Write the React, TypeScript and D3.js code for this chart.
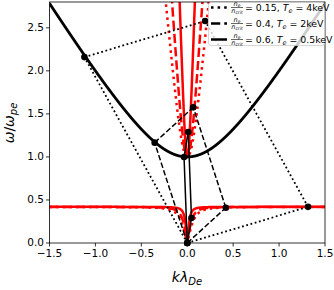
import React from 'react';
import * as d3 from 'd3';

const W = 334, H = 290;
const left = 49.5, right = 325, top = 2, bottom = 243;

// the three cases of the legend
const densities = ['0.15', '0.4', '0.6'];      // n_e / n_crit
const temperatures = [4, 2, 0.5];              // T_e in keV
const tempLabels = ['4', '2', '0.5'];
const styles = ['dotted', 'dashed', 'solid'];

// plateau of the low-frequency branch (omega / omega_pe)
const plateau = 0.42;
const mec2 = 511; // keV

// matching points: [k lambda_De, omega / omega_pe]
const epwPoints = [[-1.12, 2.16], [-0.355, 1.166], [-0.035, 1.0]];
const lowPoints = [[1.315, 0.42], [0.42, 0.41], [0.046, 0.29]];
const pumpPoints = [[0.195, 2.58], [0.065, 1.576], [0.011, 1.29]];

const xTicks = [-1.5, -1, -0.5, 0, 0.5, 1, 1.5];
const yTicks = [0, 0.5, 1, 1.5, 2, 2.5];

const x = d3.scaleLinear().domain([-1.5, 1.5]).range([left, right]);
const y = d3.scaleLinear().domain([0, 2.8]).range([bottom, top]);

const ks = d3.range(-1500, 1501).map(i => i / 1000);

// Bohm-Gross EPW
const epw = (k: number) => Math.sqrt(1 + 3 * k * k);
// coupled EM / low branch, a = c / v_te
const branches = (k: number, a: number) => {
  const X = (a * k) * (a * k);
  const s = 1 + X;
  const d = Math.sqrt(s * s - 4 * X * plateau * plateau);
  return [Math.sqrt(Math.max(0, (s - d) / 2)), Math.sqrt((s + d) / 2)];
};

const line = d3.line<number[]>().x(d => x(d[0])).y(d => y(d[1]));

const redDash: any = { dotted: '2.5,4.1', dashed: '9.25,4', solid: null };
const thinDash: any = { dotted: '1.8,2.6', dashed: '5.5,2.4', solid: null };

const font = 'DejaVu Sans, sans-serif';

export default function App() {
  const fmt = (v: number) => (v < 0 ? '\u2212' : '') + Math.abs(v).toFixed(1);
  return (
    <svg width={W} height={H} style={{ position: 'absolute', left: 0, top: 0 }} fontFamily={font}>
      <defs>
        <clipPath id="plot">
          <rect x={left} y={top} width={right - left} height={bottom - top} />
        </clipPath>
      </defs>
      <rect width={W} height={H} fill="white" />
      <g clipPath="url(#plot)">
        {temperatures.map((t, i) => {
          const a = Math.sqrt(mec2 / t);
          const low = ks.map(k => [k, branches(k, a)[0]]);
          const up = ks.map(k => [k, Math.min(branches(k, a)[1], 5)]);
          return (
            <g key={'r' + i} fill="none" stroke="red" strokeWidth={2.5} strokeDasharray={redDash[styles[i]] || undefined}>
              <path d={line(low) || ''} />
              <path d={line(up) || ''} />
            </g>
          );
        })}
        <path d={line(ks.map(k => [k, epw(k)])) || ''} fill="none" stroke="black" strokeWidth={2.8} />
        {styles.map((s, i) => {
          const O = [0, 0], A = epwPoints[i], B = pumpPoints[i], C = lowPoints[i];
          return (
            <g key={'p' + i} fill="none" stroke="black" strokeWidth={s === 'dotted' ? 1.8 : 1.5} strokeDasharray={thinDash[s] || undefined}>
              <path d={line([O, A]) || ''} />
              <path d={line([O, C]) || ''} />
              <path d={line([A, B]) || ''} />
              <path d={line([C, B]) || ''} />
            </g>
          );
        })}
      </g>
      {styles.map((s, i) => (
        <g key={'m' + i} fill="black">
          {[[0, 0], epwPoints[i], pumpPoints[i], lowPoints[i]].map((p, j) => (
            <circle key={j} cx={x(p[0])} cy={y(p[1])} r={3.3} />
          ))}
        </g>
      ))}
      {/* frame */}
      <rect x={left} y={top} width={right - left} height={bottom - top} fill="none" stroke="black" strokeWidth={0.8} />
      {/* x ticks */}
      {xTicks.map(t => (
        <g key={'x' + t}>
          <line x1={x(t)} x2={x(t)} y1={bottom} y2={bottom + 3.5} stroke="black" strokeWidth={0.8} />
          <text x={x(t)} y={bottom + 14} fontSize={10.5} textAnchor="middle">{fmt(t)}</text>
        </g>
      ))}
      {yTicks.map(t => (
        <g key={'y' + t}>
          <line x1={left - 3.5} x2={left} y1={y(t)} y2={y(t)} stroke="black" strokeWidth={0.8} />
          <text x={left - 5.5} y={y(t) - 0.5} dy="0.36em" fontSize={10.5} textAnchor="end">{fmt(t)}</text>
        </g>
      ))}
      {/* axis labels */}
      <text x={187} y={282} fontSize={14} textAnchor="middle">
        <tspan fontStyle="italic">k</tspan><tspan fontStyle="italic">λ</tspan>
        <tspan fontStyle="italic" fontSize={10} dy={3}>De</tspan>
      </text>
      <text transform="translate(14,123) rotate(-90)" fontSize={14} textAnchor="middle">
        <tspan fontStyle="italic">ω</tspan>/<tspan fontStyle="italic">ω</tspan>
        <tspan fontStyle="italic" fontSize={10} dy={3}>pe</tspan>
      </text>
      {/* legend */}
      <rect x={208.5} y={2.5} width={116} height={43} rx={2.5} fill="white" fillOpacity={0.8} stroke="#cccccc" strokeWidth={0.8} />
      {styles.map((s, i) => {
        const ry = 7.5 + 16 * i;
        return (
          <g key={'l' + i}>
            <line x1={211} x2={227} y1={ry} y2={ry} stroke="black" strokeWidth={2.5} strokeDasharray={redDash[s] || undefined} />
            <text x={237} y={ry - 1.8} fontSize={6.5} textAnchor="middle">
              <tspan fontStyle="italic">n</tspan><tspan fontStyle="italic" fontSize={4.5} dy={1}>e</tspan>
            </text>
            <line x1={231} x2={243} y1={ry} y2={ry} stroke="black" strokeWidth={0.6} />
            <text x={237} y={ry + 5.5} fontSize={6.5} textAnchor="middle">
              <tspan fontStyle="italic">n</tspan><tspan fontStyle="italic" fontSize={4.5} dy={1}>crit</tspan>
            </text>
            <text x={245} y={ry + 3.3} fontSize={9.4} style={{ whiteSpace: 'pre' }}>
              {'= ' + densities[i] + ', '}<tspan fontStyle="italic">T</tspan>
              <tspan fontStyle="italic" fontSize={6.5} dy={2}>e</tspan>
              <tspan dy={-2}>{' = ' + tempLabels[i] + 'keV'}</tspan>
            </text>
          </g>
        );
      })}
    </svg>
  );
}
